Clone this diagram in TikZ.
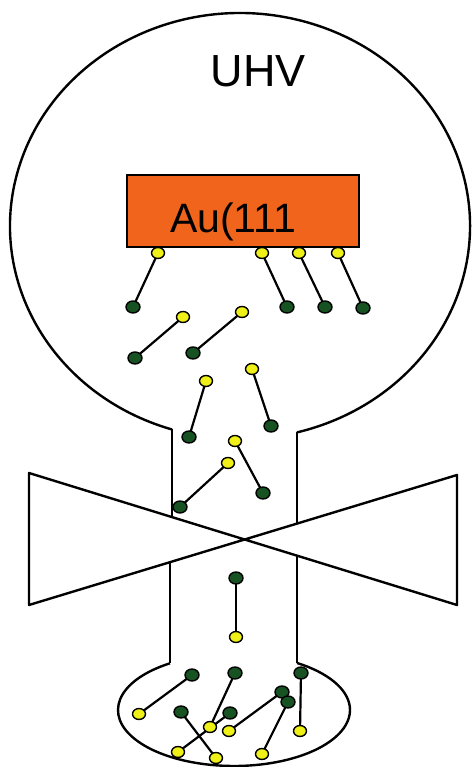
\documentclass[tikz,border=0pt]{standalone}
\usepackage{fontspec}
\setmainfont{Liberation Sans}
\usetikzlibrary{shapes.geometric,backgrounds}

\definecolor{auorange}{RGB}{240,100,28}
\definecolor{sulfur}{RGB}{240,240,25}
\definecolor{chain}{RGB}{22,82,34}

\tikzset{
  wall/.style={line width=2.4pt, line join=round},
  head/.style={ellipse, draw, line width=1.4pt, fill=sulfur, minimum width=13pt, minimum height=11pt, inner sep=0pt},
  tail/.style={ellipse, draw, line width=1.4pt, fill=chain, minimum width=14pt, minimum height=12pt, inner sep=0pt},
  stick/.style={line width=2.2pt},
}

\begin{document}
\begin{tikzpicture}[x=1pt,y=1pt]
    \useasboundingbox (0,0) rectangle (471,767);

    % vacuum chamber with neck
    \draw[wall] (172,337.5) arc[start angle=252.8, end angle=-75.65, x radius=230, y radius=213];
    \draw[wall] (172,337.5) -- (172,249.9);
    \draw[wall] (297,334.6) -- (297,243.4);

    % valve
    \draw[wall] (29,294) -- (457,162) -- (457,292) -- (29,162) -- cycle;

    % lower neck and source bowl
    \draw[wall] (170,204.8) -- (170,103.7);
    \draw[wall] (297,211.3) -- (297,104);
    \draw[wall] (170,103.7) arc[start angle=123.49, end angle=417.1, x radius=116, y radius=56];

    % substrate
    \node (gold) [rectangle, draw, line width=2.4pt, fill=auorange, minimum width=232pt, minimum height=72pt] at (243,556) {};
    \node (goldlabel) [anchor=base west, inner sep=0pt, font=\fontsize{41}{49}\selectfont] at (170,534) {Au(111};
    \node (uhv) [anchor=base, inner sep=0pt, font=\fontsize{45}{54}\selectfont] at (258.5,680) {UHV};

    % molecules: head (x,y) / tail (x,y)
    \foreach \i/\hx/\hy/\tx/\ty in {
        1/158/514/133/460, 2/262/514/287/460, 3/299/514/325/460, 4/338/514/363/459,
        5/183/450/135/409, 6/242/455/193/414, 7/206/386/189/330, 8/252/398/271/341,
        9/235/326/263/274, 10/228/304/180/260, 11/236/130/236/189, 12/139/53/192/92,
        13/210/40/235/94, 14/216/9/181/55, 15/178/15/230/54, 16/229/36/282/75,
        17/262/13/288/65, 18/300/36/301/94} {
        \node[head] (h\i) at (\hx,\hy) {};
        \node[tail] (t\i) at (\tx,\ty) {};
        \begin{pgfonlayer}{background}
            \draw[stick] (h\i.center) -- (t\i.center);
        \end{pgfonlayer}
    }
\end{tikzpicture}
\end{document}
